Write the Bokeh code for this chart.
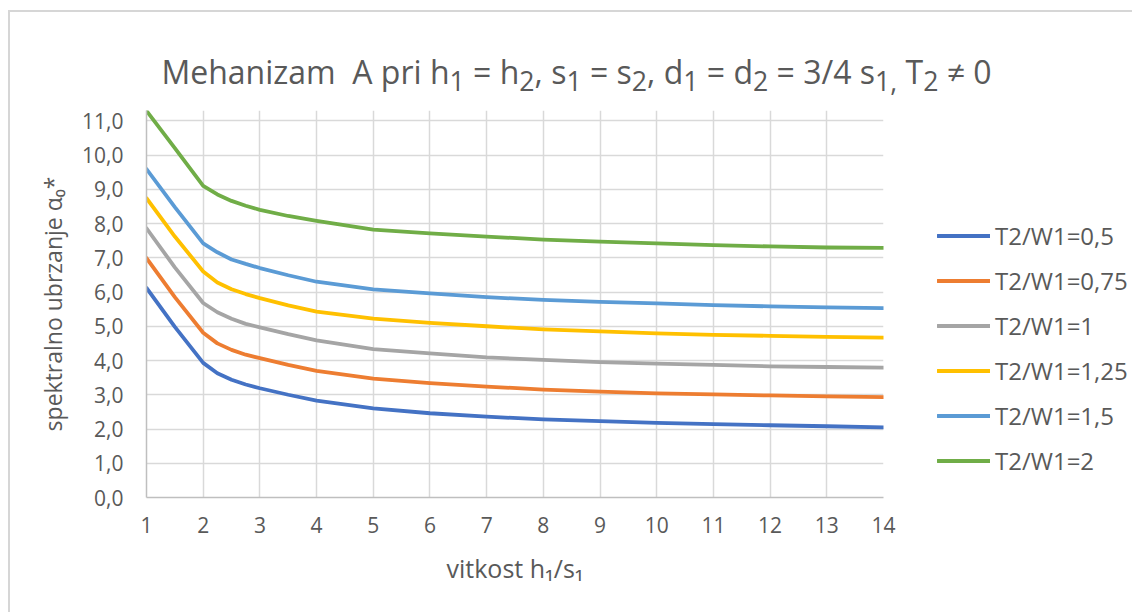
from bokeh.plotting import figure
from bokeh.models import Range1d, FixedTicker, Legend, LegendItem, Div
from bokeh.layouts import column, row
from bokeh.embed import file_html
from bokeh.resources import INLINE

# ---- data ----
x_vals = [1, 1.5, 2, 2.25, 2.5, 2.75, 3, 3.5, 4, 5, 6, 7, 8, 9, 10, 11, 12, 13, 14]
s_050 = [6.12, 4.98, 3.93, 3.63, 3.44, 3.30, 3.19, 3.00, 2.83, 2.60, 2.46, 2.36, 2.28, 2.23, 2.18, 2.14, 2.11, 2.08, 2.05]
s_075 = [6.99, 5.85, 4.81, 4.50, 4.31, 4.17, 4.07, 3.87, 3.70, 3.47, 3.34, 3.24, 3.15, 3.09, 3.04, 3.01, 2.98, 2.95, 2.93]
s_100 = [7.86, 6.72, 5.68, 5.41, 5.22, 5.07, 4.97, 4.77, 4.59, 4.33, 4.21, 4.09, 4.02, 3.95, 3.91, 3.87, 3.83, 3.81, 3.79]
s_125 = [8.74, 7.62, 6.60, 6.28, 6.08, 5.94, 5.82, 5.61, 5.43, 5.22, 5.10, 5.00, 4.91, 4.85, 4.79, 4.75, 4.72, 4.69, 4.67]
s_150 = [9.59, 8.48, 7.42, 7.16, 6.95, 6.82, 6.70, 6.49, 6.30, 6.08, 5.96, 5.85, 5.77, 5.71, 5.67, 5.62, 5.58, 5.55, 5.53]
s_200 = [11.29, 10.20, 9.10, 8.85, 8.66, 8.52, 8.40, 8.22, 8.08, 7.82, 7.71, 7.62, 7.53, 7.47, 7.42, 7.37, 7.33, 7.30, 7.29]

series_names = ["T2/W1=0,5", "T2/W1=0,75", "T2/W1=1", "T2/W1=1,25", "T2/W1=1,5", "T2/W1=2"]
series_vals = [s_050, s_075, s_100, s_125, s_150, s_200]
colors = ["#4472C4", "#ED7D31", "#A5A5A5", "#FFC000", "#5B9BD5", "#70AD47"]

x_ticks = list(range(1, 15))
y_ticks = list(range(0, 12))
y_tick_labels = {t: f"{t},0" for t in y_ticks}

title_html = ("Mehanizam&nbsp; A pri h<sub>1</sub> = h<sub>2</sub>, s<sub>1</sub> = s<sub>2</sub>, "
              "d<sub>1</sub> = d<sub>2</sub> = 3/4 s<sub>1,</sub> T<sub>2</sub> \u2260 0")
x_label = "vitkost h\u2081/s\u2081"
y_label = "spektralno ubrzanje \u03b1\u2080*"

FONT = "Open Sans"
TXT = "#595959"

# ---- title ----
title_div = Div(
    text=(f'<div style="font-family:\'{FONT}\';font-size:32px;color:{TXT};text-align:center;'
          f'width:1122px;box-sizing:border-box;line-height:40px;padding-top:40px;padding-left:11px;'
          f'white-space:nowrap">{title_html}</div>'),
    width=1122, height=88, margin=0)

# ---- main chart ----
p = figure(width=893, height=512, output_backend="svg", toolbar_location=None,
           x_range=Range1d(1, 14), y_range=Range1d(0, 11.3),
           min_border_left=136, min_border_right=20, min_border_top=10, min_border_bottom=115,
           margin=0)
p.outline_line_color = None
p.background_fill_color = "white"
p.border_fill_color = "white"

p.xaxis.ticker = FixedTicker(ticks=x_ticks)
p.yaxis.ticker = FixedTicker(ticks=y_ticks)
p.yaxis.major_label_overrides = y_tick_labels
for ax in (p.xaxis, p.yaxis):
    ax.major_tick_in = 0
    ax.major_tick_out = 0
    ax.minor_tick_in = 0
    ax.minor_tick_out = 0
    ax.axis_line_color = "#bfbfbf"
    ax.axis_line_width = 1.5
    ax.major_label_text_font = FONT
    ax.major_label_text_font_size = "21px"
    ax.major_label_text_color = TXT
    ax.axis_label_text_font = FONT
    ax.axis_label_text_color = TXT
    ax.axis_label_text_font_style = "normal"
p.xaxis.axis_label_text_font_size = "25px"
p.yaxis.axis_label_text_font_size = "23px"
p.xaxis.major_label_standoff = 19
p.yaxis.major_label_standoff = 23
p.xaxis.axis_label = x_label
p.yaxis.axis_label = y_label
p.xaxis.axis_label_standoff = 15
p.yaxis.axis_label_standoff = 10

p.xgrid.ticker = FixedTicker(ticks=x_ticks)
p.ygrid.ticker = FixedTicker(ticks=y_ticks)
p.grid.grid_line_color = "#d9d9d9"
p.grid.grid_line_width = 1.5

for vals, c in zip(series_vals, colors):
    p.line(x_vals, vals, line_color=c, line_width=3.8, line_join="round", line_cap="round")

# ---- legend panel (series drawn out of view; only the legend shows) ----
leg = figure(width=229, height=512, output_backend="svg", toolbar_location=None,
             x_range=Range1d(-10, 0), y_range=Range1d(-10, 0),
             x_axis_location=None, y_axis_location=None,
             min_border=0, margin=0)
leg.outline_line_color = None
leg.grid.visible = False
leg.background_fill_color = "white"
leg.border_fill_color = "white"
items = []
for name, vals, c in zip(series_names, series_vals, colors):
    r = leg.line(x_vals, vals, line_color=c, line_width=3.8, line_cap="round")
    items.append(LegendItem(label=name, renderers=[r]))
legend = Legend(items=items, location=(24, 10), orientation="vertical",
                glyph_width=53, glyph_height=33, label_height=33, spacing=12,
                label_standoff=5, padding=10, margin=0, border_line_alpha=0, background_fill_alpha=0,
                label_text_font=FONT, label_text_font_size="24px", label_text_color=TXT)
leg.add_layout(legend, "center")

layout = column(title_div, row(p, leg, spacing=0, margin=0), spacing=0, margin=0)
layout.styles = {"margin-left": "8px", "margin-top": "10px",
                 "border-top": "2px solid #d6d6d6", "border-left": "2px solid #d6d6d6"}

open("out.html", "w").write(file_html(layout, INLINE))
